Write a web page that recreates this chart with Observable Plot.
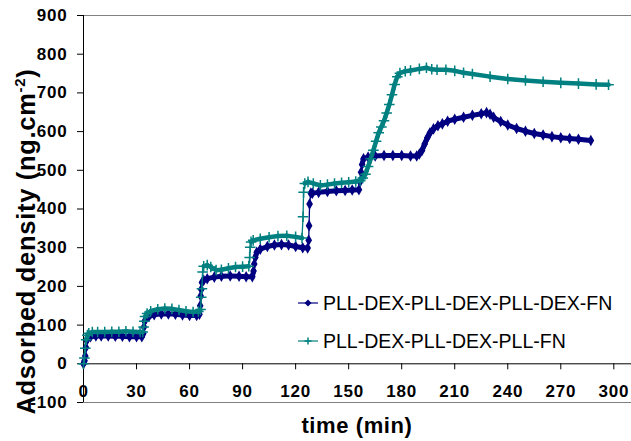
<!DOCTYPE html>
<html><head><meta charset="utf-8">
<script src="https://cdn.jsdelivr.net/npm/d3@7"></script>
<script src="https://cdn.jsdelivr.net/npm/@observablehq/plot@0.6"></script>
<style>
body{margin:0;background:#fff;}
#wrap{position:relative;width:631px;height:441px;font-family:"Liberation Sans",Arial,sans-serif;}
#wrap svg text{letter-spacing:0.8px;}
.leg{position:absolute;left:298px;display:flex;align-items:center;font-size:19.5px;height:24px;line-height:24px;color:#000;white-space:nowrap;}
.leg span{margin-left:5px;}
</style></head><body><div id="wrap"></div>
<script>
const seriesNames = ["PLL-DEX-PLL-DEX-PLL-DEX-FN", "PLL-DEX-PLL-DEX-PLL-FN"];
const seriesColors = ["#000080", "#008080"];
const xTicks = [0, 30, 60, 90, 120, 150, 180, 210, 240, 270, 300];
const yTicks = [-100, 0, 100, 200, 300, 400, 500, 600, 700, 800, 900];
const xTitle = "time (min)";
const yTitle = "Adsorbed density (ng.cm";
const yTitleSup = "-2";

const blueTime = [0,0.6,1.0,1.4,1.8,2.5,4,7,10,14,18,22,26,30,33,33.8,34.2,34.6,35.5,37,40,44,48,52,56,60,64,65.6,66,66.3,66.6,67,68,70,74,78,83,88,92,95.5,96.2,96.6,97.2,98,100,104,108,112,116,120,124,126.8,127.4,127.6,127.9,128.6,129.5,133,138,143,148,152,155.8,156.4,157,157.6,158.4,161,165,170,175,180,185,188.5,190,191.5,193,194.5,196,198,200.5,203,206,210,215,220,225,228,230,232,236,240,245,250,255,260,265,270,275,280,287];
const blueValue = [0,8,20,42,60,67,70,72,72,72,71,71,70,70,70,78,95,110,118,122,127,129,129,128,126,125,125,128,150,175,192,210,216,220,224,226,227,226,225,225,240,258,275,288,296,303,307,308,307,303,300,299,319,357,413,441,441,443,445,447,448,449,450,470,495,515,530,534,537,538,538,538,537,537,542,551,568,584,597,607,615,620,627,632,637,642,646,649,645,637,626,617,608,601,595,591,587,584,582,580,577];

const tealTime = [0,0.5,1.0,1.5,2.2,3,5,8,12,16,20,24,28,32,33.5,34,34.4,34.8,36,38,42,46,50,54,58,62,65,66.2,66.6,67,67.4,68,70,72,75,78,82,86,90,93.5,94,94.3,94.8,96,100,105,110,115,120,123.6,124.2,124.5,125.2,127,130,134,138,142,146,150,154,156.5,158,159.5,161,162.5,164,165.5,167,168.5,170,171.5,173,174.5,176,177.5,179,182,185,190,194,197,200,205,210,215,220,230,240,250,260,270,280,290,297];
const tealValue = [0,15,40,62,74,79,82,82,82,83,83,84,83,82,82,95,110,122,130,136,141,143,142,139,136,134,135,140,172,194,237,252,255,250,242,243,247,250,251,252,275,301,315,319,323,327,330,331,328,325,380,443,466,470,466,461,463,466,468,469,471,473,480,490,510,530,552,575,597,612,628,648,670,695,722,742,751,756,758,762,765,761,760,760,757,752,749,742,736,732,729,726,724,722,721];

const blueData = blueTime.map((t, i) => ({t, v: blueValue[i]}));
const tealData = tealTime.map((t, i) => ({t, v: tealValue[i]}));

// consecutive segments; steep injection jumps are drawn thin, dense plateaus thick
function segments(data, thick) {
  const out = [];
  for (let i = 1; i < data.length; i++) {
    const a = data[i - 1], b = data[i];
    const slope = Math.abs(b.v - a.v) / (b.t - a.t);
    out.push({t1: a.t, v1: a.v, t2: b.t, v2: b.v, w: slope > 25 ? 1.3 : thick});
  }
  return out;
}
const blueSeg = segments(blueData, 5);
const tealSeg = segments(tealData, 4.5);

const chart = Plot.plot({
  width: 631,
  height: 441,
  marginLeft: 83,
  marginRight: 0,
  marginTop: 15,
  marginBottom: 39,
  style: {fontFamily: "'Liberation Sans', Arial, sans-serif", fontSize: "17px", fontWeight: "bold", color: "#000", background: "#fff", overflow: "visible"},
  x: {domain: [0, 310], axis: null},
  y: {domain: [-100, 900], ticks: yTicks, tickSize: 6, tickPadding: 10, label: null, tickFormat: d => String(d)},
  marks: [
    Plot.ruleY([yTicks[0], yTicks[yTicks.length - 1]], {stroke: "#808080", strokeWidth: 1}),
    Plot.ruleY([0], {stroke: "#000", strokeWidth: 1}),
    Plot.ruleX([0], {stroke: "#000", strokeWidth: 1}),
    Plot.ruleX(xTicks, {x: d => d, y1: 0, y2: 0, insetBottom: -6, stroke: "#000"}),
    Plot.text(xTicks, {x: d => d, text: d => String(d), frameAnchor: "bottom", dy: -11, lineAnchor: "middle", fontWeight: "bold", fontSize: 17}),
    Plot.link(blueSeg, {x1: "t1", y1: "v1", x2: "t2", y2: "v2", stroke: seriesColors[0], strokeWidth: "w", strokeLinecap: "round"}),
    Plot.dot(blueData, {x: "t", y: "v", symbol: "diamond", fill: seriesColors[0], r: 3.5}),
    Plot.link(tealSeg, {x1: "t1", y1: "v1", x2: "t2", y2: "v2", stroke: seriesColors[1], strokeWidth: "w", strokeLinecap: "round"}),
    Plot.dot(tealData, {x: "t", y: "v", symbol: "plus", stroke: seriesColors[1], strokeWidth: 1.5, r: 3.5})
  ]
});

const wrap = document.getElementById("wrap");
wrap.appendChild(chart);
const svg = d3.select(chart);

svg.append("text")
  .attr("x", 357).attr("y", 433)
  .attr("text-anchor", "middle")
  .style("font-size", "22px").style("font-weight", "bold").style("letter-spacing", "0.6px")
  .text(xTitle);

const yt = svg.append("text")
  .attr("transform", "translate(35,241.5) rotate(-90)")
  .attr("text-anchor", "middle")
  .style("font-size", "25.5px").style("font-weight", "bold").style("letter-spacing", "0.7px");
yt.append("tspan").text(yTitle);
yt.append("tspan").attr("dy", -10).style("font-size", "15px").text(yTitleSup);
yt.append("tspan").attr("dy", 10).text(")");

const rows = [{top: 291, sym: "diamond"}, {top: 329, sym: "plus"}];
rows.forEach((r, i) => {
  const div = document.createElement("div");
  div.className = "leg";
  div.style.top = r.top + "px";
  const mk = r.sym === "diamond"
    ? `<path d="M10,8.5L13.5,12L10,15.5L6.5,12Z" fill="${seriesColors[i]}"/>`
    : `<path d="M10,8.5V15.5M6.5,12H13.5" stroke="${seriesColors[i]}" stroke-width="1.5"/>`;
  div.innerHTML = `<svg width="20" height="24"><line x1="0" x2="20" y1="12" y2="12" stroke="${seriesColors[i]}" stroke-width="1.2"/>${mk}</svg><span>${seriesNames[i]}</span>`;
  wrap.appendChild(div);
});
</script></body></html>
